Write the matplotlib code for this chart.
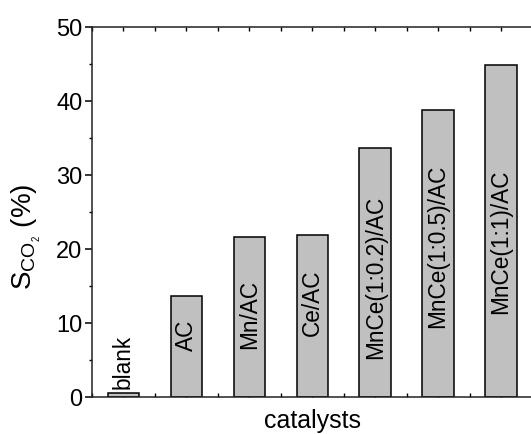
import matplotlib
matplotlib.use("Agg")
import matplotlib.pyplot as plt
from matplotlib.ticker import MultipleLocator
import numpy as np

plt.rcParams['font.family'] = ['Liberation Sans', 'DejaVu Sans']
plt.rcParams['mathtext.fontset'] = 'custom'
plt.rcParams['mathtext.rm'] = 'Liberation Sans'
plt.rcParams['mathtext.it'] = 'Liberation Sans:italic'

categories = ["blank", "AC", "Mn/AC", "Ce/AC", "MnCe(1:0.2)/AC", "MnCe(1:0.5)/AC", "MnCe(1:1)/AC"]
values = [0.5, 13.7, 21.6, 21.85, 33.7, 38.8, 44.9]
label_y = [4.8, 8.3, 11.2, 12.8, 16.2, 20.3, 21.0]  # label centre heights (layout)

W, H = 531, 434
fig = plt.figure(figsize=(W / 100, H / 100), dpi=100)
left, right, top, bottom = 92, 532.5, 27, 397
ax = fig.add_axes([left / W, 1 - bottom / H, (right - left) / W, (bottom - top) / H])

x = np.arange(1, len(categories) + 1)
ax.bar(x, values, width=0.5, color='#c0c0c0', edgecolor='black', linewidth=1.1, zorder=2)

for xi, cat, ly in zip(x, categories, label_y):
    ax.text(xi, ly, cat, rotation=90, ha='center', va='center', fontsize=16.3, zorder=3)

ax.set_xlim(0.5, 7.5)
ax.set_ylim(0, 50)
ax.yaxis.set_major_locator(MultipleLocator(10))
ax.yaxis.set_minor_locator(MultipleLocator(5))
ax.xaxis.set_major_locator(MultipleLocator(0.5))
ax.tick_params(axis='x', which='both', direction='in', length=3, width=1, top=True, bottom=True,
               labelbottom=False)
ax.tick_params(axis='y', which='major', direction='out', length=5, width=1.1, labelsize=17, pad=2)
ax.tick_params(axis='y', which='minor', direction='out', length=2.5, width=1)
for s in ax.spines.values():
    s.set_linewidth(1.1)
    s.set_color('#222222')

ax.set_xlabel('catalysts', fontsize=18, va='center')
ax.xaxis.set_label_coords(0.5, -(421 - 397) / (bottom - top))
ax.set_ylabel(r'S$_{\mathrm{CO}_{_2}}$ (%)', fontsize=20, va='center')
ax.yaxis.set_label_coords(-(92 - 26) / (right - left), (bottom - 237) / (bottom - top))

fig.savefig('out.png', dpi=100)
